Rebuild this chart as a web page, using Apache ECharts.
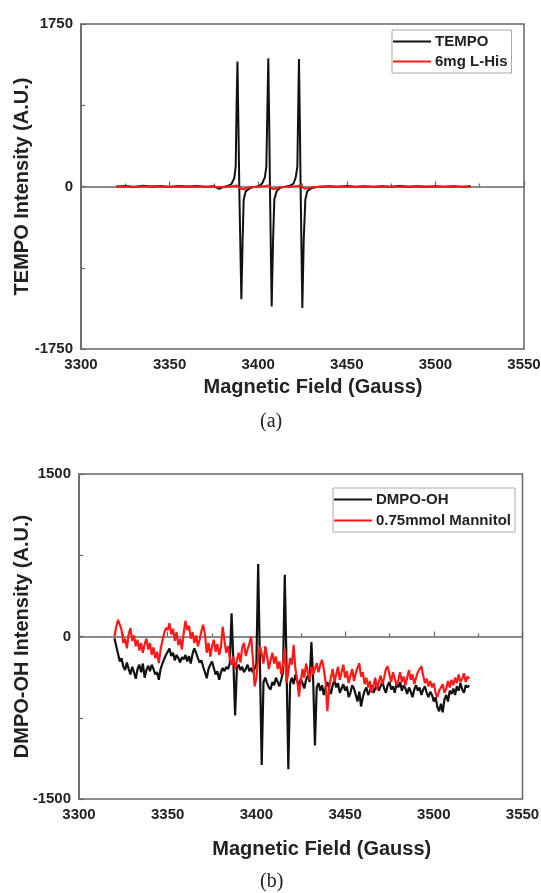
<!DOCTYPE html>
<html>
<head>
<meta charset="utf-8">
<script src="https://cdn.jsdelivr.net/npm/echarts@6/dist/echarts.min.js"></script>
<style>
  html, body { margin: 0; padding: 0; background: #fff; }
  #chart { width: 541px; height: 893px; }
</style>
</head>
<body>
<div id="chart"></div>
<script>
// panel (a): [field G, intensity]
const tempo = [
  [3320, 0], [3325, 6], [3330, -4], [3335, 8], [3340, 0], [3345, 6], [3350, -4], [3355, 5],
  [3360, 0], [3365, 6], [3370, -3], [3375, 4], [3378, -25], [3380, -8], [3382, 2],
  [3383.5, 10], [3385, 30], [3386.5, 90], [3387.3, 215], [3387.8, 860], [3388.3, 1345],
  [3388.8, 700], [3389.4, -100], [3390.5, -1215], [3391.2, -573], [3391.8, -143],
  [3392.9, -53], [3395.4, -17], [3398, -4], [3400.6, 5], [3402.3, 35], [3403.8, 100],
  [3404.6, 215], [3405.2, 850], [3405.7, 1382], [3406.2, 700], [3406.7, -100],
  [3407.6, -1291], [3408.4, -570], [3409.1, -140], [3410.4, -50], [3412.3, -15],
  [3415, -3], [3417.6, 5], [3419.9, 30], [3421.2, 100], [3422.1, 215], [3422.6, 860],
  [3423.0, 1374], [3423.5, 700], [3424.0, -100], [3424.9, -1309], [3425.7, -570],
  [3426.6, -140], [3427.7, -50], [3430.2, -15], [3434, -4], [3440, 4], [3445, -3],
  [3450, 5], [3455, -2], [3460, 4], [3465, -4], [3470, 3], [3475, -2], [3480, 5],
  [3485, -3], [3490, 4], [3495, -2], [3500, 3], [3505, -3], [3510, 4], [3515, -2], [3520, 2]
];
const lhis = [
  [3320, 0], [3330, -3], [3340, 2], [3350, -2], [3360, 1], [3370, -4], [3378, -8],
  [3385, 2], [3388, 10], [3390, -25], [3392, -30], [3394, -10], [3398, -5], [3404, 5],
  [3406, 12], [3408, -28], [3410, -25], [3412, -8], [3418, -4], [3422, 5], [3424, 12],
  [3426, -25], [3428, -20], [3431, -6], [3440, -4], [3450, -2], [3460, -5], [3470, -2],
  [3480, -4], [3490, -1], [3500, -4], [3510, -2], [3520, -3]
];

// panel (b): intensities sampled every 1 G from 3320 to 3520
const fieldStart = 3320;
const dmpoOH = [
  -17, -90, -160, -230, -200, -280, -310, -240, -300, -350,
  -280, -330, -390, -300, -260, -330, -250, -380, -310, -270,
  -320, -260, -300, -350, -330, -400, -300, -250, -210, -170,
  -140, -110, -180, -150, -220, -170, -200, -240, -190, -210,
  -170, -230, -180, -250, -160, -110, -150, -200, -240, -220,
  -280, -330, -385, -300, -260, -230, -290, -350, -320, -400,
  -330, -290, -320, -280, -300, -250, 215, -220, -730, -290,
  -260, -310, -280, -330, -300, -260, -320, -290, -330, -300,
  -250, 669, -260, -1186, -420, -380, -430, -470, -490, -420,
  -450, -380, -420, -460, -400, -330, 570, -280, -1226, -430,
  -380, -440, -350, -410, -460, -390, -430, -480, -400, -360,
  -420, -52, -400, -1006, -470, -430, -500, -450, -540, -470,
  -420, -480, -530, -450, -400, -470, -430, -520, -480, -440,
  -500, -460, -560, -520, -450, -480, -540, -600, -510, -646,
  -560, -500, -470, -540, -500, -450, -520, -480, -430, -500,
  -460, -410, -480, -520, -450, -420, -490, -460, -520, -430,
  -470, -420, -500, -450, -480, -530, -470, -510, -560, -490,
  -450, -500, -470, -540, -490, -460, -520, -560, -510, -540,
  -600, -560, -650, -690, -620, -700, -580, -540, -600, -500,
  -530, -480, -540, -460, -500, -430, -490, -520, -450, -470,
  -450
];
const mannitol = [
  0, 90, 154, 110, 60, -60, -20, -110, 20, 77,
  -40, 10, -90, -30, -130, -60, -150, -70, -20, -120,
  -60, -170, -100, -200, -140, -246, -120, -40, 30, 80,
  60, 123, 20, 70, -40, 40, -80, -20, -120, 30,
  145, 60, 100, -20, 40, -60, 10, -90, -30, 50,
  108, 20, -150, -60, -185, -90, -30, -140, -70, -170,
  -100, 92, -40, -150, -90, -200, -260, -185, -300, -220,
  -150, -240, -100, -60, -180, -120, -70, 0, -200, -460,
  -380, -200, -90, -160, -250, -90, -180, -300, -220, -150,
  -250, -185, -300, -230, -350, -270, -105, -430, -330, -200,
  -260, -77, -300, -400, -554, -420, -300, -380, -250, -330,
  -400, -280, -350, -300, -245, -330, -260, -215, -300, -420,
  -690, -480, -380, -300, -420, -350, -280, -400, -330, -260,
  -380, -320, -430, -360, -300, -410, -340, -290, -245, -370,
  -330, -440, -380, -470, -410, -520, -450, -380, -490, -420,
  -360, -440, -380, -300, -275, -350, -420, -330, -390, -450,
  -400, -330, -420, -370, -450, -380, -310, -400, -350, -440,
  -380, -330, -300, -275, -360, -430, -390, -460, -410, -470,
  -430, -520, -560, -500, -470, -440, -520, -480, -410, -470,
  -400, -450, -380, -430, -350, -420, -390, -340, -420, -370,
  -390
];

const fieldTicks = { min: 3300, max: 3550, interval: 50 };
const tempoRange = { min: -1750, max: 1750, interval: 1750 };
const dmpoRange = { min: -1500, max: 1500, interval: 1500 };

const withField = arr => arr.map((v, i) => [fieldStart + i, v]);

const chart = echarts.init(document.getElementById('chart'));

const labelFont = {
  fontFamily: 'Liberation Sans, Arial, sans-serif',
  fontWeight: 'bold',
  fontSize: 15,
  color: '#222'
};
const nameFont = {
  fontFamily: 'Liberation Sans, Arial, sans-serif',
  fontWeight: 'bold',
  fontSize: 20,
  color: '#222'
};
const plain = v => String(v);

function xAxisOf(gridIndex, gap, shift) {
  return {
    type: 'value', gridIndex,
    min: fieldTicks.min, max: fieldTicks.max, interval: fieldTicks.interval,
    name: 'Magnetic Field (Gauss)', nameLocation: 'middle', nameGap: gap,
    nameMoveOverlap: false,
    nameTextStyle: Object.assign({ padding: [0, 0, 0, shift] }, nameFont),
    axisLine: { lineStyle: { color: '#666', width: 1.5 } },
    axisTick: { inside: true, length: 5, lineStyle: { color: '#666', width: 1.2 } },
    minorTick: { show: true, splitNumber: 2, length: 3, lineStyle: { color: '#666', width: 1.2 } },
    axisLabel: Object.assign({ margin: 8, formatter: plain }, labelFont),
    splitLine: { show: false }
  };
}
function yAxisOf(gridIndex, range, name, gap) {
  return {
    type: 'value', gridIndex,
    min: range.min, max: range.max, interval: range.interval,
    name, nameLocation: 'middle', nameGap: gap,
    nameMoveOverlap: false,
    nameTextStyle: nameFont,
    axisLine: { lineStyle: { color: '#666', width: 1.5 } },
    axisTick: { inside: true, length: 5, lineStyle: { color: '#666', width: 1.2 } },
    minorTick: { show: true, splitNumber: 2, length: 4, lineStyle: { color: '#666', width: 1.2 } },
    axisLabel: Object.assign({ margin: 8, formatter: plain }, labelFont),
    splitLine: { show: false }
  };
}
function legendOf(data, left, top, gap) {
  return {
    data, orient: 'vertical', left, top,
    icon: 'rect', itemWidth: 38, itemHeight: 2, itemGap: gap,
    padding: [4, 4, 4, 1],
    borderColor: '#aaa', borderWidth: 1,
    textStyle: Object.assign({ lineHeight: 15, padding: [0, 0, 0, -1] }, labelFont)
  };
}

const option = {
  animation: false,
  backgroundColor: '#fff',
  grid: [
    { left: 81, top: 24, width: 443, height: 325, show: true, borderColor: '#666', borderWidth: 1.5,
      containLabel: false, outerBoundsMode: 'none' },
    { left: 79, top: 474, width: 443.5, height: 325, show: true, borderColor: '#666', borderWidth: 1.5,
      containLabel: false, outerBoundsMode: 'none' }
  ],
  xAxis: [xAxisOf(0, 28, 21), xAxisOf(1, 40, 42)],
  yAxis: [
    yAxisOf(0, tempoRange, 'TEMPO Intensity (A.U.)', 49),
    yAxisOf(1, dmpoRange, 'DMPO-OH Intensity (A.U.)', 47)
  ],
  legend: [
    legendOf(['TEMPO', '6mg L-His'], 392, 30, 5),
    legendOf(['DMPO-OH', '0.75mmol Mannitol'], 333, 488, 6)
  ],
  series: [
    { name: 'TEMPO', type: 'line', xAxisIndex: 0, yAxisIndex: 0, data: tempo, symbol: 'none',
      lineStyle: { color: '#111', width: 2 }, itemStyle: { color: '#111' } },
    { name: '6mg L-His', type: 'line', xAxisIndex: 0, yAxisIndex: 0, data: lhis, symbol: 'none',
      lineStyle: { color: '#ff1a1a', width: 2 }, itemStyle: { color: '#ff1a1a' } },
    { name: 'DMPO-OH', type: 'line', xAxisIndex: 1, yAxisIndex: 1, data: withField(dmpoOH), symbol: 'none',
      lineStyle: { color: '#111', width: 2.2 }, itemStyle: { color: '#111' } },
    { name: '0.75mmol Mannitol', type: 'line', xAxisIndex: 1, yAxisIndex: 1, data: withField(mannitol), symbol: 'none',
      lineStyle: { color: '#ff1a1a', width: 2.2 }, itemStyle: { color: '#ff1a1a' } }
  ],
  graphic: [
    { type: 'text', left: 260, top: 412, style: { text: '(a)', font: '20px "Liberation Serif", serif', fill: '#222' } },
    { type: 'text', left: 260, top: 872, style: { text: '(b)', font: '20px "Liberation Serif", serif', fill: '#222' } }
  ]
};
chart.setOption(option);
</script>
</body>
</html>
